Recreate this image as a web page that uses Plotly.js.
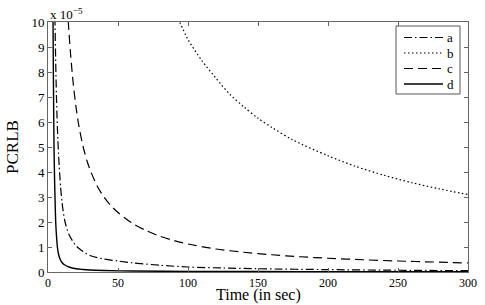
<!DOCTYPE html>
<html>
<head>
<meta charset="utf-8">
<script src="https://cdn.plot.ly/plotly-3.0.1.min.js"></script>
<style>html,body{margin:0;padding:0;background:#fff;}#chart{width:485px;height:305px;}</style>
</head>
<body>
<div id="chart"></div>
<script>
// Values (y in units of 1e-5)
const tA = [4.8,5,5.5,6,6.5,7,7.5,8,9,10,12,15,20,25,30,40,50,60,80,100,125,150,200,250,300];
const yA = [10.8,10,8.4,7.1,6.1,5.35,4.75,4.25,3.4,2.8,2.05,1.5,1.05,0.82,0.66,0.52,0.44,0.37,0.27,0.2,0.16,0.13,0.095,0.07,0.055];

const tB = [90,94,100,110,120,130,140,150,160,175,200,220,240,260,280,300];
const yB = [10.4,10,9.3,8.45,7.75,7.1,6.6,6.15,5.78,5.28,4.65,4.22,3.87,3.57,3.32,3.1];

const tC = [13.8,14.5,16,18,20,22,25,28,30,35,40,45,50,60,70,80,90,100,120,140,160,180,200,225,250,275,300];
const yC = [10.6,10,8.8,7.55,6.6,5.86,5.03,4.42,4.1,3.45,3.0,2.65,2.38,1.96,1.66,1.43,1.26,1.12,0.92,0.79,0.69,0.61,0.55,0.49,0.44,0.4,0.36];

const tD = [3.3,3.6,3.8,4.0,4.3,4.7,5.0,5.5,6.0,6.7,7.5,8.5,10,12,15,20,25,30,40,60,100,150,200,300];
const yD = [12.5,10,8.2,6.8,5.0,3.7,3.0,2.0,1.5,1.0,0.72,0.53,0.38,0.28,0.2,0.13,0.1,0.08,0.06,0.04,0.025,0.018,0.014,0.01];

const names = ['a','b','c','d'];
const dashes = ['8px,3px,1.5px,3px', '1.5px,2.5px', '9px,5px', 'solid'];
const widths = [1.2, 1.2, 1.2, 1.4];
const xTicks = [0,50,100,150,200,250,300];
const yTicks = [0,1,2,3,4,5,6,7,8,9,10];

const FONT = 'Liberation Serif, Times New Roman, serif';

const series = [[tA,yA],[tB,yB],[tC,yC],[tD,yD]];
const data = series.map((s, i) => ({
  x: s[0], y: s[1], name: names[i], type: 'scatter', mode: 'lines', showlegend: false,
  line: {color: '#000', width: widths[i], dash: dashes[i], shape: 'spline', smoothing: 0.8}
}));

// Hand-built legend box (matching the reference's compact legend)
const legBox = {x0: 0.8286, x1: 0.981, y0: 0.712, y1: 0.984};
const legRowY = [0.938, 0.876, 0.814, 0.752];
const shapes = [{type: 'rect', xref: 'paper', yref: 'paper', x0: legBox.x0, x1: legBox.x1, y0: legBox.y0, y1: legBox.y1,
  line: {color: '#555', width: 1}, fillcolor: '#fff', layer: 'above'}];
const annotations = [];
names.forEach((n, i) => {
  shapes.push({type: 'line', xref: 'paper', yref: 'paper', x0: 0.8476, x1: 0.9405, y0: legRowY[i], y1: legRowY[i],
    line: {color: '#000', width: widths[i], dash: dashes[i]}, layer: 'above'});
  annotations.push({xref: 'paper', yref: 'paper', x: 0.948, y: legRowY[i], xanchor: 'left', yanchor: 'middle',
    showarrow: false, text: n, font: {family: FONT, size: 13, color: '#000'}, borderpad: 0});
});
annotations.push({xref: 'paper', yref: 'paper', x: 0, y: 1, xanchor: 'left', yanchor: 'bottom',
  showarrow: false, text: 'x 10<sup>\u22125</sup>', font: {family: FONT, size: 13, color: '#000'}, yshift: -2});
annotations.push({xref: 'paper', yref: 'paper', x: 0.5, y: -0.092, xanchor: 'center', yanchor: 'middle',
  showarrow: false, text: 'Time (in sec)', font: {family: FONT, size: 16, color: '#000'}, borderpad: 0});

const axisCommon = {
  showline: true, linecolor: '#666', linewidth: 1, mirror: 'allticks',
  ticks: 'inside', ticklen: 4, tickcolor: '#666', showgrid: false, zeroline: false,
  tickfont: {family: FONT, size: 13, color: '#000'}
};

const layout = {
  width: 485, height: 305,
  margin: {l: 48, r: 17, t: 22, b: 33},
  paper_bgcolor: '#fff', plot_bgcolor: '#fff',
  showlegend: false,
  xaxis: Object.assign({}, axisCommon, {range: [0, 300], tickvals: xTicks, ticktext: xTicks.map(String),
    tickfont: {family: FONT, size: 12, color: '#000'}}),
  yaxis: Object.assign({}, axisCommon, {range: [0, 10], tickvals: yTicks, ticktext: yTicks.map(String),
    title: {text: 'PCRLB', font: {family: FONT, size: 17, color: '#000'}, standoff: 8}}),
  shapes: shapes,
  annotations: annotations
};

Plotly.newPlot('chart', data, layout, {displayModeBar: false, staticPlot: true});
</script>
</body>
</html>
